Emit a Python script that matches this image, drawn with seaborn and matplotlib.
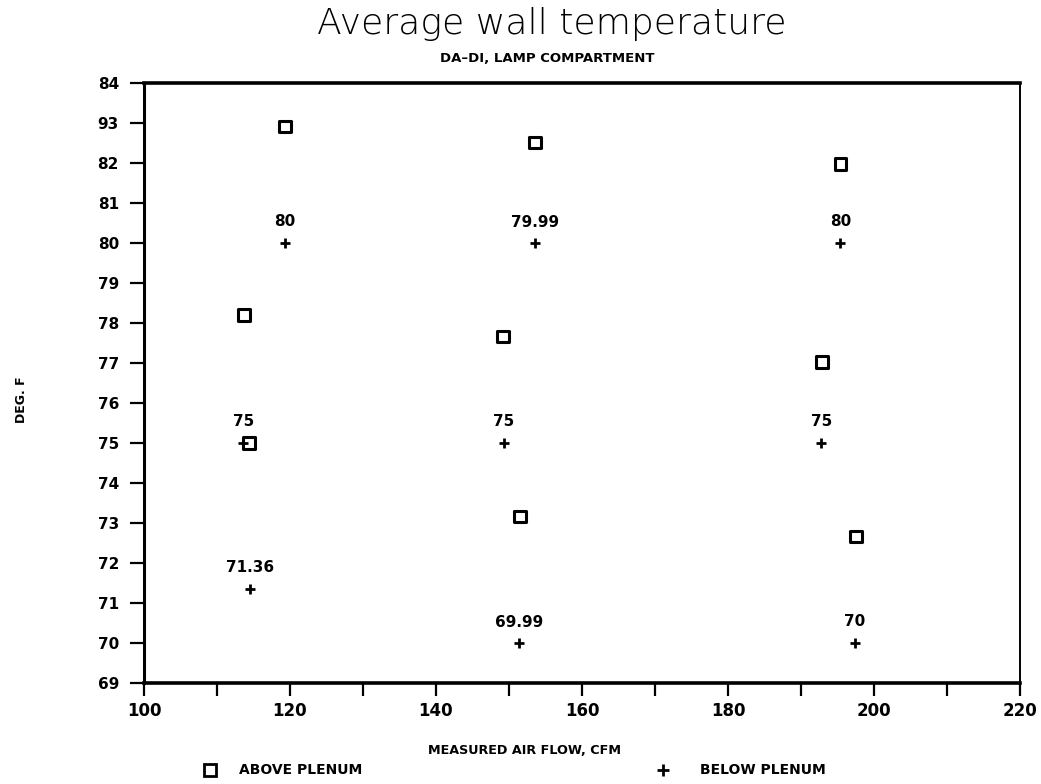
import matplotlib
matplotlib.use("Agg")
import matplotlib.pyplot as plt
from matplotlib.lines import Line2D
from matplotlib.ticker import MultipleLocator, FixedLocator
import seaborn as sns
import pandas as pd

# Measured air flow (CFM) and average wall temperature (deg F)
above_flow = [119.3, 113.7, 114.4, 153.6, 149.2, 151.5, 195.4, 192.9, 197.5]
above_temp = [82.91, 78.2, 75.0, 82.51, 77.66, 73.16, 81.97, 77.03, 72.66]

below_flow = [119.3, 113.6, 114.5, 153.6, 149.3, 151.4, 195.4, 192.8, 197.4]
below_temp = [80, 75, 71.36, 79.99, 75, 69.99, 80, 75, 70]
below_text = ["80", "75", "71.36", "79.99", "75", "69.99", "80", "75", "70"]

y_tick_values = list(range(69, 85))
y_tick_labels = ["69", "70", "71", "72", "73", "74", "75", "76", "77",
                 "78", "79", "80", "81", "82", "93", "84"]
x_tick_values = [100, 120, 140, 160, 180, 200, 220]

above = pd.DataFrame({"flow": above_flow, "temp": above_temp})
below = pd.DataFrame({"flow": below_flow, "temp": below_temp, "text": below_text})

sns.set_style("white")
plt.rcParams["font.family"] = ["DejaVu Sans"]
plt.rcParams["text.color"] = "black"
plt.rcParams["axes.labelcolor"] = "black"
plt.rcParams["xtick.color"] = "black"
plt.rcParams["ytick.color"] = "black"

fig = plt.figure(figsize=(10.41, 7.84), dpi=100)
ax = fig.add_axes([0.1383, 0.1288, 0.8415, 0.7653])

sns.scatterplot(data=above, x="flow", y="temp", ax=ax, marker="s", s=70,
                facecolors="none", edgecolor="black", linewidth=2.2, legend=False)
sns.scatterplot(data=below, x="flow", y="temp", ax=ax, marker="+", s=60,
                color="black", linewidth=2.0, legend=False)

for _, r in below.iterrows():
    ax.annotate(r["text"], (r["flow"], r["temp"]), xytext=(0, 10),
                textcoords="offset points", ha="center", va="bottom",
                fontsize=11, fontweight="bold", color="black")

ax.set_xlim(100, 220)
ax.set_ylim(69, 84)
ax.xaxis.set_major_locator(FixedLocator(x_tick_values))
ax.xaxis.set_minor_locator(MultipleLocator(10))
ax.set_xticklabels([str(v) for v in x_tick_values], fontsize=12, fontweight="bold")
ax.yaxis.set_major_locator(FixedLocator(y_tick_values))
ax.set_yticklabels(y_tick_labels, fontsize=11, fontweight="bold")
ax.tick_params(axis="both", which="both", direction="out", color="black",
               labelcolor="black", width=1.6, bottom=True, left=True)
ax.tick_params(axis="y", length=10, pad=8)
ax.tick_params(axis="x", which="major", length=9, pad=5)
ax.tick_params(axis="x", which="minor", length=9)

for side, lw in [("left", 2.2), ("bottom", 2.6), ("top", 2.6), ("right", 1.4)]:
    ax.spines[side].set_visible(True)
    ax.spines[side].set_color("black")
    ax.spines[side].set_linewidth(lw)

ax.set_xlabel("")
ax.set_ylabel("")

fig.text(0.530, 0.970, "Average wall temperature", ha="center", va="center",
         fontsize=26, fontweight="light", color="black")
fig.text(0.526, 0.926, "DA\u2013DI, LAMP COMPARTMENT", ha="center", va="center",
         fontsize=9.5, fontweight="bold", color="black")
fig.text(0.504, 0.043, "MEASURED AIR FLOW, CFM", ha="center", va="center",
         fontsize=9.2, fontweight="bold", color="black")
fig.text(0.021, 0.49, "DEG. F", ha="center", va="center", rotation=90,
         fontsize=9, fontweight="bold", color="black")

# Legend row beneath the axis title
fig.add_artist(Line2D([0.2017], [0.018], transform=fig.transFigure, marker="s",
                      markersize=8, markerfacecolor="none", markeredgecolor="black",
                      markeredgewidth=2.0, linestyle="none"))
fig.text(0.230, 0.018, "ABOVE PLENUM", ha="left", va="center",
         fontsize=10, fontweight="bold", color="black")
fig.add_artist(Line2D([0.637], [0.018], transform=fig.transFigure, marker="+",
                      markersize=8, color="black", markeredgewidth=2.0,
                      linestyle="none"))
fig.text(0.672, 0.018, "BELOW PLENUM", ha="left", va="center",
         fontsize=10, fontweight="bold", color="black")

fig.savefig("out.png", dpi=100)
